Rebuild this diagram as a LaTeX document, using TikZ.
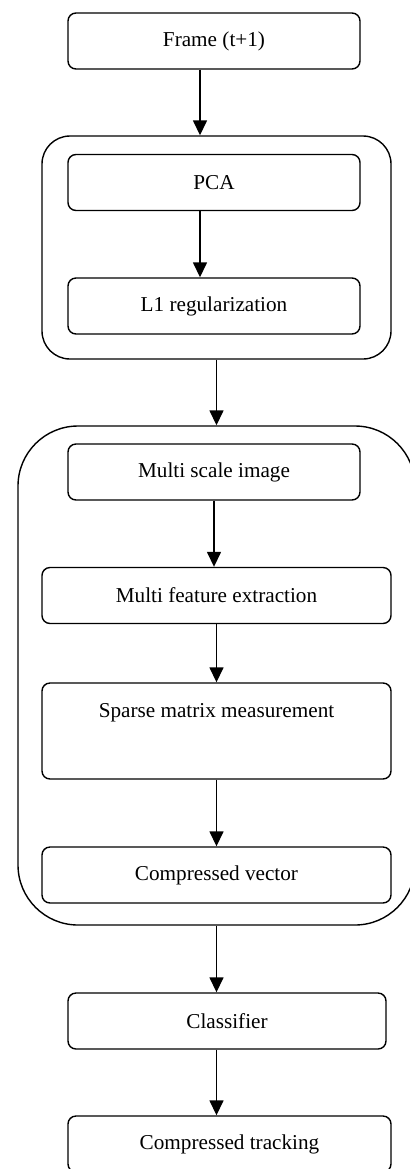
\documentclass[tikz,border=0pt]{standalone}
\usepackage{fontspec}
\setmainfont{Liberation Serif}
\usetikzlibrary{arrows.meta}
\tikzset{
    stage/.style={draw, line width=0.7pt, rounded corners=4pt, minimum height=28pt, inner sep=0pt,
        font=\fontsize{10.6}{12.7}\selectfont},
    group/.style={draw, line width=0.7pt, inner sep=0pt},
    flow/.style={line width=0.75pt, -{Triangle[length=7.5pt, width=7pt]}}
}
\begin{document}
\begin{tikzpicture}[x=0.5pt, y=-0.5pt]
        \useasboundingbox (0,0) rectangle (409,1169);

        \node[stage, minimum width=146pt] (frame) at (214,41) {Frame (t+1)};

        \node[group, rounded corners=14pt, minimum width=174.5pt, minimum height=111.5pt] (outer1) at (216.5,247.5) {};
        \node[stage, minimum width=146pt] (pca) at (214,182.5) {PCA};
        \node[stage, minimum width=146pt] (l1) at (214,306) {L1 regularization};

        \node[group, rounded corners=30pt, minimum width=198.5pt, minimum height=249.5pt] (outer2) at (216.5,675.5) {};
        \node[stage, minimum width=146pt] (msi) at (214,472) {Multi scale image};
        \node[stage, minimum width=174.5pt] (mfe) at (216.5,595.5) {Multi feature extraction};
        \node[stage, minimum width=174.5pt, minimum height=48pt,
            label={[anchor=center, yshift=-15pt, font=\fontsize{10.6}{12.7}\selectfont]north:Sparse matrix measurement}] (sparse) at (216.5,731) {};
        \node[stage, minimum width=174.5pt] (cvec) at (216.5,875) {Compressed vector};

        \node[stage, minimum width=159pt] (clf) at (227,1021) {Classifier};
        \node[stage, minimum width=161.5pt] (track) at (229.5,1144) {Compressed tracking};

        \draw[flow] ([xshift=-7pt]frame.south) -- ([xshift=-7pt]frame.south |- outer1.north);
        \draw[flow] ([xshift=-7pt]pca.south) -- ([xshift=-7pt]l1.north);
        \draw[flow] (outer1.south) -- (outer2.north);
        \draw[flow] (msi.south) -- (msi.south |- mfe.north);
        \draw[flow] (mfe.south) -- (sparse.north);
        \draw[flow] (sparse.south) -- (cvec.north);
        \draw[flow] (outer2.south) -- (outer2.south |- clf.north);
        \draw[flow] (outer2.south |- clf.south) -- (outer2.south |- track.north);
\end{tikzpicture}
\end{document}
